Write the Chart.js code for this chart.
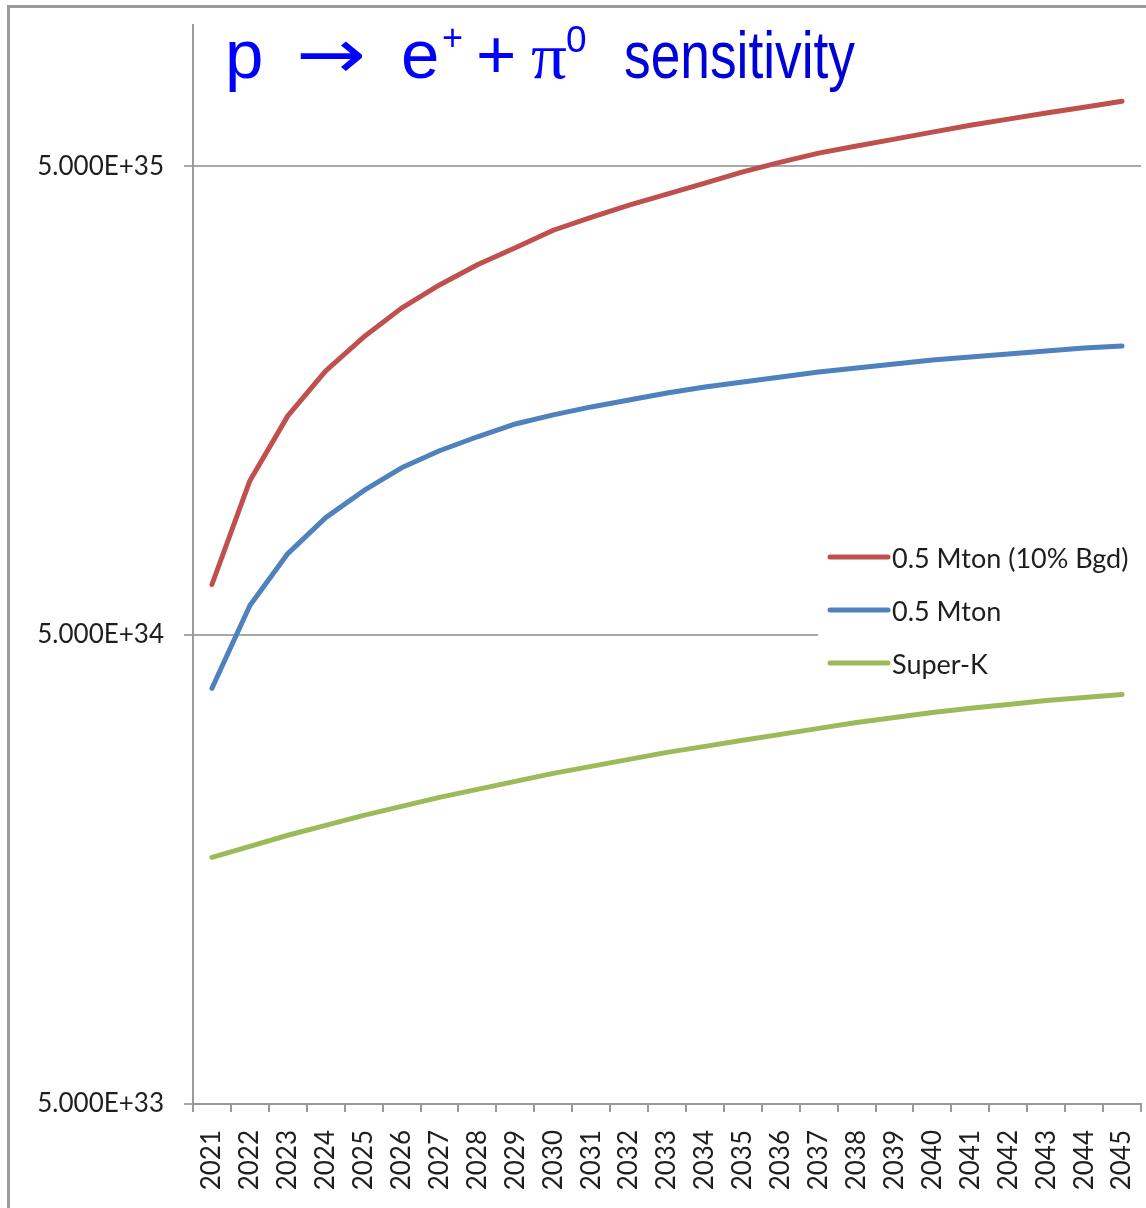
<!DOCTYPE html>
<html>
<head>
<meta charset="utf-8">
<script src="https://cdn.jsdelivr.net/npm/chart.js@4.4.1/dist/chart.umd.min.js"></script>
<style>
  html, body { margin: 0; padding: 0; background: #ffffff; }
  #wrap { width: 1146px; height: 1208px; position: relative; }
</style>
</head>
<body>
<div id="wrap"><canvas id="c" width="1146" height="1208"></canvas></div>
<script>
// ---------- data ----------
const years = ['2021','2022','2023','2024','2025','2026','2027','2028','2029','2030',
               '2031','2032','2033','2034','2035','2036','2037','2038','2039','2040',
               '2041','2042','2043','2044','2045'];

const mton10Bgd = [6.41e34, 1.067e35, 1.467e35, 1.83e35, 2.16e35, 2.49e35, 2.79e35, 3.08e35, 3.35e35, 3.65e35,
                   3.89e35, 4.13e35, 4.36e35, 4.60e35, 4.86e35, 5.10e35, 5.33e35, 5.52e35, 5.71e35, 5.91e35,
                   6.11e35, 6.30e35, 6.49e35, 6.68e35, 6.88e35];

const mton = [3.85e34, 5.78e34, 7.46e34, 8.90e34, 1.016e35, 1.137e35, 1.236e35, 1.324e35, 1.410e35, 1.474e35,
              1.533e35, 1.586e35, 1.641e35, 1.691e35, 1.733e35, 1.776e35, 1.820e35, 1.856e35, 1.893e35, 1.931e35,
              1.959e35, 1.988e35, 2.018e35, 2.048e35, 2.068e35];

const superK = [1.679e34, 1.772e34, 1.871e34, 1.964e34, 2.063e34, 2.156e34, 2.254e34, 2.344e34, 2.438e34, 2.535e34,
                2.624e34, 2.716e34, 2.811e34, 2.895e34, 2.982e34, 3.071e34, 3.162e34, 3.256e34, 3.337e34, 3.420e34,
                3.489e34, 3.556e34, 3.627e34, 3.681e34, 3.735e34];

const seriesLabels = ['0.5 Mton (10% Bgd)', '0.5 Mton', 'Super-K'];
const yTickValues = [5e33, 5e34, 5e35];
const yTickLabels = ['5.000E+33', '5.000E+34', '5.000E+35'];
const yMin = 5e33;
const yMax = 1e36;

// ---------- styles ----------
const seriesColors = ['#c0504d', '#4f81bd', '#9bbb59'];
const axisFont = '"Lato", "Open Sans", sans-serif';
const textColor = '#1e1e1e';

// outer frame
const framePlugin = {
  id: 'frame',
  beforeDraw(chart) {
    const ctx = chart.ctx;
    ctx.save();
    ctx.fillStyle = '#ffffff';
    ctx.fillRect(0, 0, chart.width, chart.height);
    ctx.strokeStyle = '#9a9a9a';
    ctx.lineWidth = 3;
    ctx.strokeRect(8.5, 6.5, chart.width + 20, chart.height + 20);
    ctx.restore();
  }
};

// title drawn inside plot area
const titleParts = [
  { t: 'p', x: 225, y: 78, size: 69, fam: '"Liberation Sans", Arial, sans-serif', color: '#0000ff' },
  { t: '\u2192', x: 296, y: 78, size: 69, fam: '"DejaVu Sans", sans-serif', color: '#0000ff', w: 70 },
  { t: 'e', x: 401, y: 78, size: 69, fam: '"Liberation Sans", Arial, sans-serif', color: '#0000ff' },
  { t: '+', x: 442, y: 50, size: 36, fam: '"Liberation Sans", Arial, sans-serif', color: '#0000ff' },
  { t: '+', x: 476, y: 78, size: 69, fam: '"Liberation Sans", Arial, sans-serif', color: '#0000ff' },
  { t: '\u03c0', x: 531, y: 78, size: 66, fam: '"Liberation Serif", "DejaVu Serif", serif', color: '#0000ff', w: 36 },
  { t: '0', x: 566, y: 52, size: 37, fam: '"Liberation Sans", Arial, sans-serif', color: '#0000ff' },
  { t: 'sensitivity', x: 624, y: 78, size: 66, fam: '"Liberation Sans", Arial, sans-serif', color: '#0000d8', w: 231 }
];
const titlePlugin = {
  id: 'slideTitle',
  afterDraw(chart) {
    const ctx = chart.ctx;
    titleParts.forEach(p => {
      ctx.save();
      ctx.font = p.size + 'px ' + p.fam;
      ctx.fillStyle = p.color;
      ctx.textBaseline = 'alphabetic';
      ctx.textAlign = 'left';
      const mw = ctx.measureText(p.t).width;
      const sx = p.w ? p.w / mw : 1;
      ctx.translate(p.x, p.y);
      ctx.scale(sx, 1);
      ctx.fillText(p.t, 0, 0);
      ctx.restore();
    });
  }
};

// legend drawn inside plot area (white box over gridline)
const insideLegend = {
  id: 'insideLegend',
  afterDraw(chart) {
    const ctx = chart.ctx;
    ctx.save();
    ctx.fillStyle = '#ffffff';
    ctx.fillRect(818, 532, 326, 156);
    const rowY = [557, 610, 663];
    chart.data.datasets.forEach((ds, i) => {
      const y = rowY[i];
      ctx.strokeStyle = ds.borderColor;
      ctx.lineWidth = 5;
      ctx.lineCap = 'round';
      ctx.beginPath();
      ctx.moveTo(830, y);
      ctx.lineTo(888, y);
      ctx.stroke();
      ctx.fillStyle = textColor;
      ctx.font = '27px ' + axisFont;
      ctx.textBaseline = 'middle';
      ctx.textAlign = 'left';
      ctx.fillText(ds.label, 892, y + 2);
    });
    ctx.restore();
  }
};

const lineStyle = (color) => ({
  borderColor: color,
  backgroundColor: color,
  borderWidth: 5,
  pointRadius: 0,
  pointHoverRadius: 0,
  tension: 0,
  fill: false,
  borderCapStyle: 'round',
  borderJoinStyle: 'round'
});

function zeroPadding(scale) {
  scale.paddingLeft = 0;
  scale.paddingRight = 0;
  scale.paddingTop = 0;
  scale.paddingBottom = 0;
}

new Chart(document.getElementById('c'), {
  type: 'line',
  data: {
    labels: years,
    datasets: [
      Object.assign({ label: seriesLabels[0], data: mton10Bgd }, lineStyle(seriesColors[0])),
      Object.assign({ label: seriesLabels[1], data: mton }, lineStyle(seriesColors[1])),
      Object.assign({ label: seriesLabels[2], data: superK }, lineStyle(seriesColors[2]))
    ]
  },
  options: {
    responsive: false,
    animation: false,
    layout: { padding: { top: 25, right: 5, left: 0, bottom: 0 } },
    plugins: {
      legend: { display: false },
      title: { display: false },
      tooltip: { enabled: false }
    },
    scales: {
      x: {
        type: 'category',
        offset: true,
        grid: {
          display: true,
          drawOnChartArea: false,
          drawTicks: true,
          tickLength: 8,
          offset: true,
          color: '#9a9a9a',
          lineWidth: 2
        },
        border: { display: true, color: '#9a9a9a', width: 2 },
        ticks: {
          autoSkip: false,
          minRotation: 90,
          maxRotation: 90,
          padding: 18,
          color: textColor,
          font: { family: axisFont, size: 26 }
        },
        afterFit(scale) { scale.height = 104; zeroPadding(scale); }
      },
      y: {
        type: 'logarithmic',
        min: yMin,
        max: yMax,
        afterBuildTicks(scale) {
          scale.ticks = yTickValues.map(v => ({ value: v }));
        },
        grid: {
          color: '#a8a8a8',
          lineWidth: 2,
          tickLength: 9,
          drawTicks: true
        },
        border: { display: true, color: '#9a9a9a', width: 2 },
        ticks: {
          padding: 20,
          color: textColor,
          font: { family: axisFont, size: 26 },
          callback: (v) => yTickLabels[yTickValues.indexOf(v)]
        },
        afterFit(scale) { scale.width = 193; zeroPadding(scale); }
      }
    }
  },
  plugins: [framePlugin, titlePlugin, insideLegend]
});
</script>
</body>
</html>
